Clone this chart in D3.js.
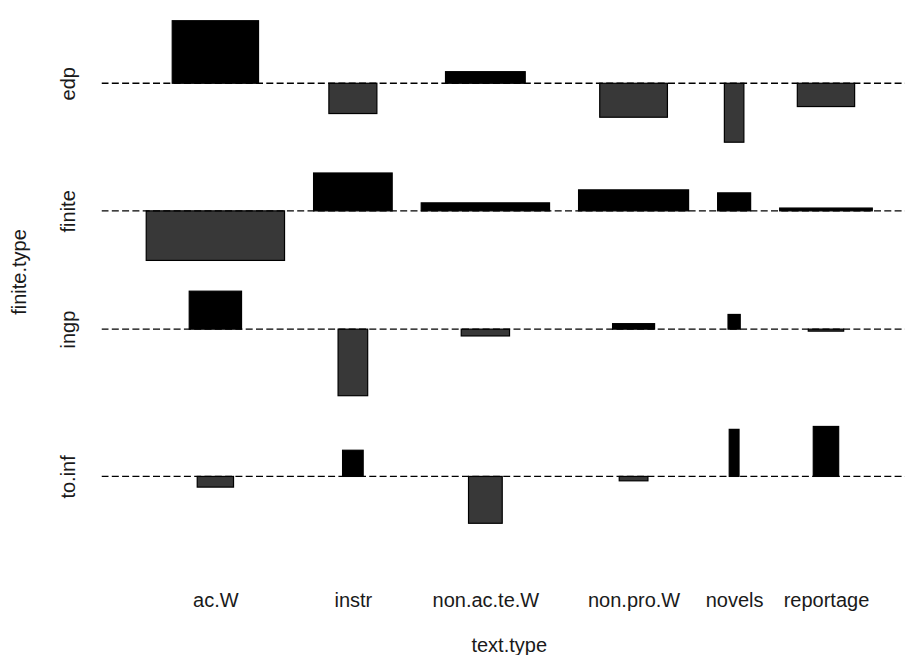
<!DOCTYPE html>
<html>
<head>
<meta charset="utf-8">
<script src="https://cdn.jsdelivr.net/npm/d3@7"></script>
<style>
  body { margin: 0; background: #fff; }
  text { font-family: "Liberation Sans", Arial, Helvetica, sans-serif; }
</style>
</head>
<body>
<svg id="chart" width="905" height="655"></svg>
<script>
// Association plot of finite.type by text.type
const textTypes = ["ac.W", "instr", "non.ac.te.W", "non.pro.W", "novels", "reportage"];
const finiteTypes = ["edp", "finite", "ingp", "to.inf"];

// square roots of the expected counts, one array per finite type (box widths)
const sqrtExpEdp    = [8.63, 4.80, 7.97, 6.77, 1.95, 5.73];
const sqrtExpFinite = [13.83, 7.86, 12.83, 11.00, 3.30, 9.26];
const sqrtExpIngp   = [5.23, 2.96, 4.83, 4.20, 1.22, 3.54];
const sqrtExpToInf  = [3.63, 2.06, 3.37, 2.87, 0.98, 2.54];

// Pearson residuals, one array per finite type (box heights)
const residEdp    = [6.26, -3.03, 1.16, -3.40, -5.90, -2.33];
const residFinite = [-4.96, 3.79, 0.80, 2.10, 1.80, 0.28];
const residIngp   = [3.80, -6.66, -0.68, 0.55, 1.47, -0.20];
const residToInf  = [-1.07, 2.62, -4.69, -0.44, 4.71, 5.00];

const sqrtExp = [sqrtExpEdp, sqrtExpFinite, sqrtExpIngp, sqrtExpToInf];
const resid = [residEdp, residFinite, residIngp, residToInf];

const space = 0.3;
const nCol = textTypes.length, nRow = finiteTypes.length;

// column widths and row heights
const colW = textTypes.map((_, j) => d3.max(sqrtExp, r => r[j]));
const rowH = resid.map(r => d3.max(r) - d3.min(r));
const xDelta = d3.mean(colW) * space;
const yDelta = d3.mean(rowH) * space;
const xMax = d3.sum(colW) + nCol * xDelta;
const yMax = d3.sum(rowH) + nRow * yDelta;

// column centres, left to right
let acc = 0;
const xMid = colW.map(w => { const m = acc + (w + xDelta) / 2; acc += w + xDelta; return m; });

// row baselines, stacked from the bottom (last finite type lowest)
const yMid = new Array(nRow);
let yacc = 0;
for (let i = nRow - 1; i >= 0; i--) {
  yacc += rowH[i] + yDelta;
  yMid[i] = yacc - d3.max(resid[i].map(v => Math.max(v, 0))) - yDelta / 2;
}

// plot region
const plotL = 101.5, plotR = 917, plotT = -16, plotB = 560;

const x = d3.scaleLinear().domain([-0.04 * xMax, 1.04 * xMax]).range([plotL, plotR]);
const y = d3.scaleLinear().domain([-0.04 * yMax, 1.04 * yMax]).range([plotB, plotT]);

const svg = d3.select("#chart");

svg.append("defs").append("clipPath").attr("id", "plotClip")
  .append("rect").attr("x", plotL).attr("y", plotT)
  .attr("width", plotR - plotL).attr("height", plotB - plotT);

const cells = [];
finiteTypes.forEach((ft, i) => {
  textTypes.forEach((tt, j) => {
    cells.push({ row: i, col: j, w: sqrtExp[i][j], d: resid[i][j] });
  });
});

const plot = svg.append("g").attr("clip-path", "url(#plotClip)");

plot.selectAll("rect.cell")
  .data(cells)
  .join("rect")
  .attr("class", "cell")
  .attr("x", c => x(xMid[c.col] - c.w / 2))
  .attr("width", c => x(c.w) - x(0))
  .attr("y", c => y(yMid[c.row] + Math.max(c.d, 0)))
  .attr("height", c => Math.abs(y(c.d) - y(0)))
  .attr("fill", c => c.d < 0 ? "#383838" : "#000000")
  .attr("stroke", "#000")
  .attr("stroke-width", 1.2);

// dashed baselines for each finite type
plot.selectAll("line.base")
  .data(yMid)
  .join("line")
  .attr("class", "base")
  .attr("x1", plotL).attr("x2", plotR)
  .attr("y1", v => y(v)).attr("y2", v => y(v))
  .attr("stroke", "#000")
  .attr("stroke-width", 1.4)
  .attr("stroke-dasharray", "7,3.3");

// x axis: text types, no ticks
const xAxis = svg.append("g")
  .attr("transform", `translate(0,${plotB})`)
  .call(d3.axisBottom(x).tickValues(xMid).tickFormat((d, i) => textTypes[i])
    .tickSize(0).tickPadding(33));
xAxis.select(".domain").remove();
xAxis.selectAll("text").attr("font-size", 20).attr("fill", "#1a1a1a")
  .style("font-family", '"Liberation Sans", Arial, sans-serif');

// y axis: finite types, rotated labels
const yAxis = svg.append("g")
  .attr("transform", `translate(${plotL},0)`)
  .call(d3.axisLeft(y).tickValues(yMid).tickFormat((d, i) => finiteTypes[i]).tickSize(0));
yAxis.select(".domain").remove();
yAxis.selectAll("text")
  .attr("x", 0).attr("y", -26.5).attr("dy", null)
  .attr("transform", "rotate(-90)")
  .attr("text-anchor", "middle")
  .attr("font-size", 20).attr("fill", "#1a1a1a")
  .style("font-family", '"Liberation Sans", Arial, sans-serif');

// axis titles
svg.append("text")
  .attr("x", (plotL + plotR) / 2).attr("y", 652)
  .attr("text-anchor", "middle")
  .attr("font-size", 20).attr("fill", "#1a1a1a")
  .text("text.type");

svg.append("text")
  .attr("transform", `translate(26,${(plotT + plotB) / 2}) rotate(-90)`)
  .attr("text-anchor", "middle")
  .attr("font-size", 20).attr("fill", "#1a1a1a")
  .text("finite.type");
</script>
</body>
</html>
